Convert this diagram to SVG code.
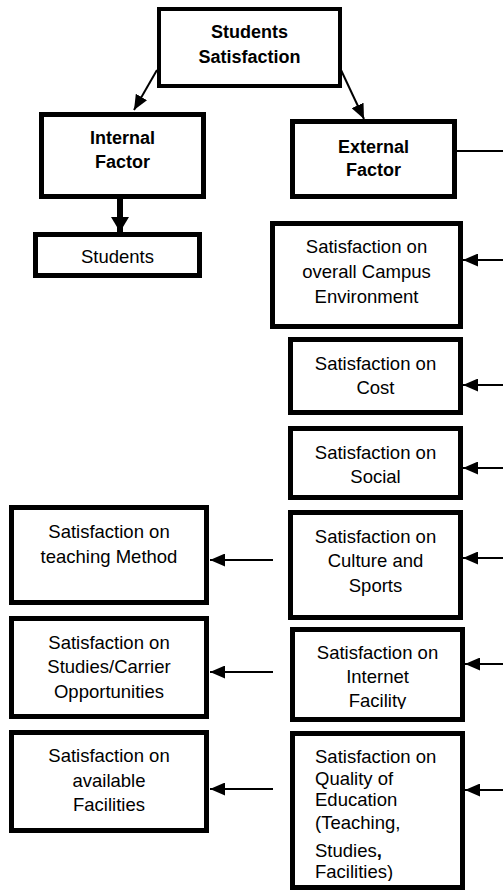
<svg xmlns="http://www.w3.org/2000/svg" width="503" height="891" viewBox="0 0 503 891">
<style>
.box{fill:#fff;stroke:#000;stroke-width:5}
.t{font-family:"Liberation Sans",Arial,sans-serif;font-size:18.5px;fill:#000;text-anchor:middle}
.b{font-weight:bold;font-size:18px}
.l{text-anchor:start}
.c{fill:none;stroke:#000;stroke-width:2}
</style>
<defs>
<marker id="ah" markerUnits="userSpaceOnUse" markerWidth="16" markerHeight="13" refX="15" refY="6.5" orient="auto"><path d="M0,0 L15,6.5 L0,13 z" fill="#000"/></marker>
<marker id="ahb" markerUnits="userSpaceOnUse" markerWidth="16" markerHeight="18" refX="15" refY="9" orient="auto"><path d="M0,0 L15,9 L0,18 z" fill="#000"/></marker>
<clipPath id="clipNet"><rect x="290" y="620" width="180" height="89"/></clipPath>
<clipPath id="clipQ"><rect x="290" y="730" width="180" height="151"/></clipPath>
</defs>
<g id="connectors">
<line class="c" x1="157" y1="70" x2="134" y2="110" marker-end="url(#ah)"/>
<line class="c" x1="341" y1="70" x2="364" y2="119" marker-end="url(#ah)"/>
<line x1="120" y1="199" x2="120" y2="232" stroke="#000" stroke-width="6" marker-end="url(#ahb)"/>
<line class="c" x1="457" y1="151" x2="503" y2="151"/>
<line class="c" x1="503" y1="260" x2="463" y2="260" marker-end="url(#ah)"/>
<line class="c" x1="503" y1="385" x2="463" y2="385" marker-end="url(#ah)"/>
<line class="c" x1="503" y1="468" x2="463" y2="468" marker-end="url(#ah)"/>
<line class="c" x1="503" y1="558" x2="463" y2="558" marker-end="url(#ah)"/>
<line class="c" x1="503" y1="664" x2="465" y2="664" marker-end="url(#ah)"/>
<line class="c" x1="503" y1="790" x2="465" y2="790" marker-end="url(#ah)"/>
<line class="c" x1="273" y1="560" x2="210" y2="560" marker-end="url(#ah)"/>
<line class="c" x1="273" y1="672" x2="210" y2="672" marker-end="url(#ah)"/>
<line class="c" x1="273" y1="789" x2="210" y2="789" marker-end="url(#ah)"/>
</g>
<g id="students-satisfaction">
<rect class="box" x="159" y="9" width="181" height="77" style="stroke-width:4"/>
<text class="t b" x="249.5" y="38">Students</text>
<text class="t b" x="249.5" y="63">Satisfaction</text>
</g>
<g id="internal-factor">
<rect class="box" x="41.5" y="114.5" width="162" height="82"/>
<text class="t b" x="122.5" y="144">Internal</text>
<text class="t b" x="122.5" y="168">Factor</text>
</g>
<g id="external-factor">
<rect class="box" x="292.5" y="121.5" width="162" height="75"/>
<text class="t b" x="373.5" y="153">External</text>
<text class="t b" x="373.5" y="176">Factor</text>
</g>
<g id="students">
<rect class="box" x="35.5" y="234.5" width="164" height="41"/>
<text class="t" x="117.5" y="263">Students</text>
</g>
<g id="campus">
<rect class="box" x="272.5" y="223.5" width="188" height="103"/>
<text class="t" x="366.5" y="253">Satisfaction on</text>
<text class="t" x="366.5" y="278">overall Campus</text>
<text class="t" x="366.5" y="303">Environment</text>
</g>
<g id="cost">
<rect class="box" x="290.5" y="339.5" width="170" height="73"/>
<text class="t" x="375.5" y="370">Satisfaction on</text>
<text class="t" x="375.5" y="394">Cost</text>
</g>
<g id="social">
<rect class="box" x="290.5" y="428.5" width="170" height="69"/>
<text class="t" x="375.5" y="459">Satisfaction on</text>
<text class="t" x="375.5" y="483">Social</text>
</g>
<g id="culture">
<rect class="box" x="290.5" y="512.5" width="170" height="105"/>
<text class="t" x="375.5" y="543">Satisfaction on</text>
<text class="t" x="375.5" y="567">Culture and</text>
<text class="t" x="375.5" y="592">Sports</text>
</g>
<g id="internet">
<rect class="box" x="292.5" y="629.5" width="170" height="90"/>
<text class="t" x="377.5" y="659">Satisfaction on</text>
<text class="t" x="377.5" y="683">Internet</text>
<text class="t" x="377.5" y="707" clip-path="url(#clipNet)">Facility</text>
</g>
<g id="quality">
<rect class="box" x="292.5" y="733.5" width="170" height="154"/>
<text class="t l" x="315" y="763">Satisfaction on</text>
<text class="t l" x="315" y="785">Quality of</text>
<text class="t l" x="315" y="806">Education</text>
<text class="t l" x="315" y="829">(Teaching,</text>
<text class="t l" x="315" y="857">Studies<tspan font-weight="bold">,</tspan></text>
<text class="t l" x="315" y="878" clip-path="url(#clipQ)">Facilities)</text>
</g>
<g id="teaching">
<rect class="box" x="11.5" y="507.5" width="195" height="95"/>
<text class="t" x="109" y="538">Satisfaction on</text>
<text class="t" x="109" y="563">teaching Method</text>
</g>
<g id="studies-carrier">
<rect class="box" x="11.5" y="618.5" width="195" height="98"/>
<text class="t" x="109" y="649">Satisfaction on</text>
<text class="t" x="109" y="673">Studies/Carrier</text>
<text class="t" x="109" y="698">Opportunities</text>
</g>
<g id="available">
<rect class="box" x="11.5" y="732.5" width="195" height="98"/>
<text class="t" x="109" y="762">Satisfaction on</text>
<text class="t" x="109" y="787">available</text>
<text class="t" x="109" y="811">Facilities</text>
</g>
</svg>
